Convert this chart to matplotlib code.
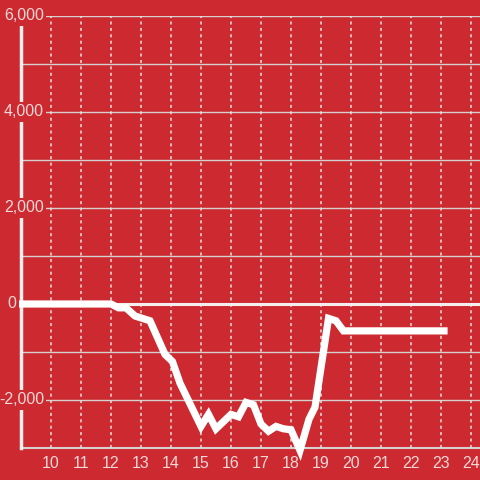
import matplotlib
matplotlib.use('Agg')
import matplotlib.pyplot as plt
import matplotlib.transforms as mtrans

plt.rcParams['font.family'] = ['Liberation Sans', 'DejaVu Sans']

# hours of the day vs value
hours = [9, 12, 12.25, 12.5, 12.8, 13.3, 13.8, 14.05, 14.3, 15.0, 15.25, 15.5,
         15.75, 16.0, 16.25, 16.5, 16.75, 17.0, 17.25, 17.5, 17.75, 18.0, 18.3,
         18.6, 18.8, 19.25, 19.5, 19.75, 23.1]
values = [0, 0, -80, -80, -250, -350, -1050, -1200, -1650, -2550, -2300, -2600,
          -2450, -2300, -2350, -2050, -2100, -2500, -2650, -2550, -2600, -2620, -3050,
          -2400, -2150, -300, -350, -560, -560]

xticks = list(range(10, 25))
yticks = [6000, 4000, 2000, 0, -2000]
ylabels = ['6,000', '4,000', '2,000', '0', '-2,000']

bg = '#cc2a30'
txt = '#f3d8d8'
grid = '#d6d0d0'

fig = plt.figure(figsize=(4.8, 4.8), dpi=100, facecolor=bg)
ax = fig.add_axes([21/480, 32/480, 459/480, 432/480], facecolor=bg)
ax.set_xlim(9, 24.3)
ax.set_ylim(-3000, 6000)

for s in ax.spines.values():
    s.set_visible(False)
ax.set_xticks([])
ax.set_yticks([])

# grid
for yv in range(-2000, 7000, 1000):
    if yv != 0:
        ax.axhline(yv, color=grid, lw=1, zorder=1)
ax.axhline(-3000, color=grid, lw=1.5, zorder=1, clip_on=False)
ax.axhline(0, color='#f4eeee', lw=2.2, zorder=2)
for xv in xticks:
    ax.axvline(xv, color='#e8e0e0', lw=1.1, ls=(0, (2, 2.2)), zorder=1)
ax.axvline(9, color='#f4eeee', lw=2.5, zorder=3, clip_on=False)

ax.plot(hours, values, color='white', lw=5.2, solid_joinstyle='miter',
        zorder=4, clip_on=False)

# x labels
xtr = mtrans.offset_copy(ax.transData, fig=fig, x=0, y=-6, units='points')
for xv in xticks:
    ax.text(xv, -3000, str(xv), ha='center', va='top', color=txt,
            fontsize=11.5, transform=xtr, clip_on=False)

# y labels, drawn over the axis line
ytr = mtrans.blended_transform_factory(fig.transFigure, ax.transData)
for yv, lab in zip(yticks, ylabels):
    if lab == '0':
        xp, ha = 12/480, 'center'
    else:
        xp, ha = 44/480, 'right'
    ax.text(xp, yv, lab, ha=ha, va='center', color=txt, fontsize=11.5,
            transform=ytr, zorder=5, clip_on=False,
            bbox=dict(facecolor=bg, edgecolor='none', pad=1.5))

fig.savefig('out.png', dpi=100, facecolor=bg)
